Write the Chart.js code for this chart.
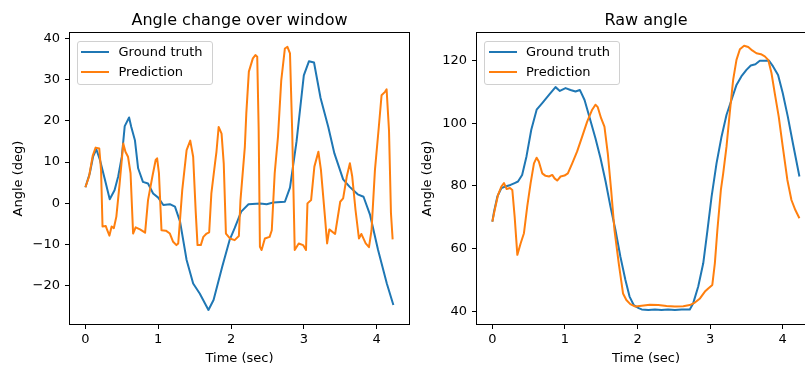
<!DOCTYPE html>
<html>
<head>
<meta charset="utf-8">
<title>Angle prediction</title>
<script src="https://cdn.jsdelivr.net/npm/chart.js@4.4.1/dist/chart.umd.min.js"></script>
<style>
  body {
    margin: 0;
    width: 805px;
    height: 367px;
    overflow: hidden;
    background: #fff;
    position: relative;
    font-family: "DejaVu Sans", sans-serif;
  }
  canvas {
    position: absolute;
    top: 0;
  }
  #left-chart { left: 0; }
  #right-chart { left: 410px; }
  .legend {
    position: absolute;
    top: 40.5px;
    width: 134px;
    height: 42px;
    border: 1px solid #d0d0d0;
    border-radius: 3px;
    background: rgba(255, 255, 255, 0.8);
    z-index: 2;
  }
  .legend .swatch {
    position: absolute;
    left: 3.5px;
    width: 28px;
    height: 2px;
  }
  .legend .label {
    position: absolute;
    left: 41px;
    font-size: 13px;
    line-height: 15px;
    color: #000;
    white-space: nowrap;
  }
</style>
</head>
<body>
<canvas id="left-chart" width="412" height="367"></canvas>
<canvas id="right-chart" width="420" height="367"></canvas>

<div class="legend" style="left: 76.5px">
  <div class="swatch" style="top: 9.8px; background: #1f77b4"></div>
  <div class="label" style="top: 2.9px">Ground truth</div>
  <div class="swatch" style="top: 29.2px; background: #ff7f0e"></div>
  <div class="label" style="top: 22.3px">Prediction</div>
</div>
<div class="legend" style="left: 484px">
  <div class="swatch" style="top: 9.8px; background: #1f77b4"></div>
  <div class="label" style="top: 2.9px">Ground truth</div>
  <div class="swatch" style="top: 29.2px; background: #ff7f0e"></div>
  <div class="label" style="top: 22.3px">Prediction</div>
</div>

<script>
"use strict";

// ---- data ----
// left panel: angle change over window (deg)
const changeTruthTime = [0, 0.06, 0.105, 0.15, 0.2, 0.27, 0.334, 0.4, 0.45, 0.5, 0.54, 0.6, 0.63, 0.68, 0.724, 0.79, 0.86, 0.93, 1.0, 1.07, 1.16, 1.23, 1.3, 1.39, 1.48, 1.57, 1.69, 1.76, 1.88, 1.98, 2.05, 2.14, 2.24, 2.4, 2.49, 2.58, 2.74, 2.81, 2.9, 3.0, 3.07, 3.14, 3.23, 3.336, 3.42, 3.54, 3.63, 3.74, 3.82, 3.91, 4.02, 4.14, 4.23];
const changeTruth = [3.9, 7.3, 11.3, 13.1, 10.5, 5.6, 1.0, 3.2, 6.5, 11.3, 18.7, 20.8, 18.5, 15.3, 8.5, 5.2, 4.8, 2.4, 1.4, -0.4, -0.2, -0.8, -4.4, -13.7, -19.4, -21.8, -25.8, -23.4, -15.3, -8.9, -6.0, -2.0, -0.2, 0, -0.2, 0.2, 0.4, 3.8, 15.0, 31.0, 34.4, 34.1, 25.5, 18.5, 12.1, 5.8, 4.0, 2.2, 1.6, -2.8, -11.3, -19.4, -24.6];

const changePredTime = [0, 0.05, 0.1, 0.14, 0.19, 0.215, 0.235, 0.28, 0.3, 0.33, 0.36, 0.39, 0.425, 0.47, 0.52, 0.55, 0.585, 0.62, 0.655, 0.69, 0.75, 0.82, 0.86, 0.92, 0.965, 0.985, 1.01, 1.045, 1.105, 1.16, 1.205, 1.25, 1.275, 1.33, 1.39, 1.44, 1.48, 1.515, 1.54, 1.585, 1.62, 1.665, 1.7, 1.73, 1.78, 1.8, 1.83, 1.87, 1.9, 1.93, 1.985, 2.05, 2.108, 2.13, 2.19, 2.21, 2.245, 2.3, 2.335, 2.36, 2.38, 2.397, 2.42, 2.465, 2.53, 2.56, 2.6, 2.645, 2.69, 2.74, 2.775, 2.81, 2.84, 2.875, 2.93, 2.99, 3.03, 3.05, 3.1, 3.145, 3.2, 3.235, 3.29, 3.32, 3.35, 3.43, 3.5, 3.54, 3.59, 3.633, 3.665, 3.71, 3.757, 3.79, 3.85, 3.895, 3.93, 3.977, 4.03, 4.068, 4.115, 4.137, 4.17, 4.197, 4.22];
const changePred = [3.9, 6.5, 11.5, 13.5, 13.3, 8.0, -5.6, -5.5, -6.5, -7.8, -5.6, -6.0, -3.2, 4.8, 14.5, 12.5, 11.3, 7.3, -7.3, -5.8, -6.3, -7.1, 0.8, 6.5, 10.5, 10.9, 7.3, -6.5, -6.6, -7.3, -9.3, -10.1, -9.7, 3.2, 12.9, 15.2, 11.3, -2.0, -10.1, -10.1, -8.1, -7.3, -7.0, 2.4, 9.7, 12.5, 18.5, 16.9, 9.7, -7.3, -8.5, -8.9, -7.9, 0.8, 13.7, 21.8, 31.9, 35.1, 35.9, 35.5, 17.7, -10.5, -11.3, -8.5, -8.1, -6.5, 7.3, 16.1, 29.8, 37.5, 37.9, 36.3, 17.7, -11.3, -9.7, -10.1, -11.3, 0, 0.8, 8.9, 12.5, 8.1, -3.2, -9.7, -6.3, -7.4, 0.4, 1.2, 6.5, 9.7, 6.5, -1.6, -8.5, -7.4, -9.7, -10.6, -6.5, 8.1, 18.5, 26.2, 27.0, 27.6, 17.7, -2.4, -8.7];

// right panel: raw angle (deg)
const rawTruthTime = [0, 0.023, 0.069, 0.124, 0.18, 0.25, 0.307, 0.353, 0.41, 0.47, 0.536, 0.61, 0.687, 0.78, 0.87, 0.93, 1.008, 1.077, 1.145, 1.205, 1.27, 1.342, 1.42, 1.49, 1.56, 1.627, 1.695, 1.764, 1.833, 1.89, 1.947, 2.016, 2.057, 2.149, 2.24, 2.33, 2.42, 2.515, 2.607, 2.72, 2.767, 2.836, 2.905, 2.964, 3.02, 3.088, 3.157, 3.226, 3.294, 3.363, 3.43, 3.5, 3.56, 3.624, 3.684, 3.753, 3.81, 3.867, 3.936, 4.0, 4.07, 4.14, 4.23];
const rawTruth = [68.6, 71.8, 76.6, 79.3, 79.8, 80.3, 80.9, 81.4, 83.5, 89.4, 97.9, 104.3, 106.4, 109.0, 111.5, 110.3, 111.2, 110.6, 110.1, 110.6, 107.4, 101.6, 95.2, 88.8, 81.4, 73.4, 66.0, 57.4, 50.0, 44.7, 42.0, 41.0, 40.6, 40.4, 40.6, 40.4, 40.6, 40.4, 40.6, 40.6, 42.6, 47.9, 55.3, 66.0, 76.6, 87.2, 95.7, 102.7, 107.4, 112.2, 114.9, 117.0, 118.4, 118.8, 119.9, 119.9, 120.0, 118.1, 115.4, 109.6, 102.1, 93.6, 83.0];

const rawPredTime = [0, 0.032, 0.078, 0.124, 0.16, 0.197, 0.243, 0.275, 0.307, 0.344, 0.39, 0.435, 0.48, 0.527, 0.573, 0.61, 0.64, 0.687, 0.733, 0.78, 0.825, 0.857, 0.893, 0.94, 0.994, 1.04, 1.1, 1.168, 1.237, 1.306, 1.375, 1.42, 1.452, 1.498, 1.544, 1.59, 1.636, 1.682, 1.741, 1.8, 1.846, 1.9, 1.97, 2.057, 2.17, 2.286, 2.4, 2.515, 2.63, 2.72, 2.79, 2.86, 2.928, 2.974, 3.03, 3.065, 3.1, 3.148, 3.18, 3.226, 3.27, 3.317, 3.363, 3.41, 3.468, 3.525, 3.58, 3.638, 3.7, 3.753, 3.8, 3.845, 3.89, 3.945, 4.0, 4.064, 4.12, 4.174, 4.23];
const rawPred = [68.6, 72.3, 77.1, 79.8, 80.9, 79.0, 79.3, 78.7, 70.2, 58.0, 61.7, 64.9, 73.4, 80.9, 87.2, 89.0, 87.8, 84.0, 83.2, 83.0, 83.5, 82.4, 81.7, 83.0, 83.3, 84.0, 87.2, 91.0, 95.7, 100.5, 104.3, 105.9, 105.1, 101.6, 98.9, 90.4, 78.7, 66.0, 55.3, 45.7, 43.6, 42.3, 41.5, 41.8, 42.1, 42.0, 41.7, 41.5, 41.6, 42.0, 42.8, 44.1, 46.3, 47.3, 48.4, 55.3, 66.0, 78.7, 84.0, 92.6, 103.2, 113.8, 120.2, 123.6, 124.7, 124.3, 123.2, 122.3, 122.0, 121.3, 120.2, 116.0, 109.6, 102.1, 92.6, 81.9, 75.5, 72.3, 69.7];

// tick labels
const timeTicks = [0, 1, 2, 3, 4];
const changeTicks = [-20, -10, 0, 10, 20, 30, 40];
const rawTicks = [40, 60, 80, 100, 120];

const seriesNames = ["Ground truth", "Prediction"];
const BLUE = "#1f77b4";
const ORANGE = "#ff7f0e";

Chart.defaults.font.family = "'DejaVu Sans', sans-serif";
Chart.defaults.color = "#000";

// matplotlib style box around the plot area
const frame = {
  id: "frame",
  afterDatasetsDraw(chart) {
    const { ctx, chartArea } = chart;
    const l = Math.round(chartArea.left);
    const t = Math.round(chartArea.top);
    const r = Math.round(chartArea.right);
    const b = Math.round(chartArea.bottom);
    ctx.save();
    ctx.strokeStyle = "#000";
    ctx.lineWidth = 1;
    ctx.strokeRect(l - 0.5, t - 0.5, r - l + 1, b - t + 1);
    ctx.restore();
  },
};

function toPoints(times, values) {
  return times.map((t, i) => ({ x: t, y: values[i] }));
}

function minusSign(v) {
  return v < 0 ? "\u2212" + Math.abs(v) : String(v);
}

function makeChart(canvasId, opts) {
  return new Chart(document.getElementById(canvasId), {
    type: "line",
    data: {
      datasets: [
        {
          label: seriesNames[0],
          data: toPoints(opts.truthTime, opts.truth),
          borderColor: BLUE,
          order: 2,
        },
        {
          label: seriesNames[1],
          data: toPoints(opts.predTime, opts.pred),
          borderColor: ORANGE,
          order: 1,
        },
      ],
    },
    options: {
      responsive: false,
      animation: false,
      events: [],
      layout: { padding: { right: opts.padRight } },
      elements: {
        point: { radius: 0 },
        line: { borderWidth: 2, tension: 0, fill: false, borderJoinStyle: "round" },
      },
      plugins: {
        legend: { display: false },
        tooltip: { enabled: false },
        title: {
          display: true,
          text: opts.title,
          fullSize: false,
          font: { size: 16, weight: "normal" },
          padding: { top: 11, bottom: 3 },
        },
      },
      scales: {
        x: {
          type: "linear",
          min: -0.2117,
          max: 4.4447,
          afterBuildTicks: (s) => { s.ticks = timeTicks.map((v) => ({ value: v })); },
          afterFit: (s) => { s.height = 43; },
          ticks: { font: { size: 13 }, padding: 3, maxRotation: 0, autoSkip: false, callback: minusSign },
          grid: { drawOnChartArea: false, tickLength: 5, color: "#000" },
          border: { display: false },
          title: { display: true, text: "Time (sec)", font: { size: 13 }, padding: { top: 0, bottom: 1 } },
        },
        y: {
          type: "linear",
          min: opts.yMin,
          max: opts.yMax,
          afterBuildTicks: (s) => { s.ticks = opts.yTicks.map((v) => ({ value: v })); },
          afterFit: (s) => { s.width = opts.yWidth; },
          ticks: { font: { size: 13 }, padding: 5, autoSkip: false, callback: minusSign },
          grid: { drawOnChartArea: false, tickLength: 5, color: "#000" },
          border: { display: false },
          title: { display: true, text: "Angle (deg)", font: { size: 13 }, padding: { top: opts.yTitlePad, bottom: 0 } },
        },
      },
    },
    plugins: [frame],
  });
}

makeChart("left-chart", {
  title: "Angle change over window",
  truthTime: changeTruthTime,
  truth: changeTruth,
  predTime: changePredTime,
  pred: changePred,
  yMin: -29.2,
  yMax: 41.2,
  yTicks: changeTicks,
  yWidth: 70,
  yTitlePad: 11,
  padRight: 3,
});

makeChart("right-chart", {
  title: "Raw angle",
  truthTime: rawTruthTime,
  truth: rawTruth,
  predTime: rawPredTime,
  pred: rawPred,
  yMin: 35.95,
  yMax: 128.7,
  yTicks: rawTicks,
  yWidth: 67,
  yTitlePad: 10,
  padRight: 15,
});
</script>
</body>
</html>
